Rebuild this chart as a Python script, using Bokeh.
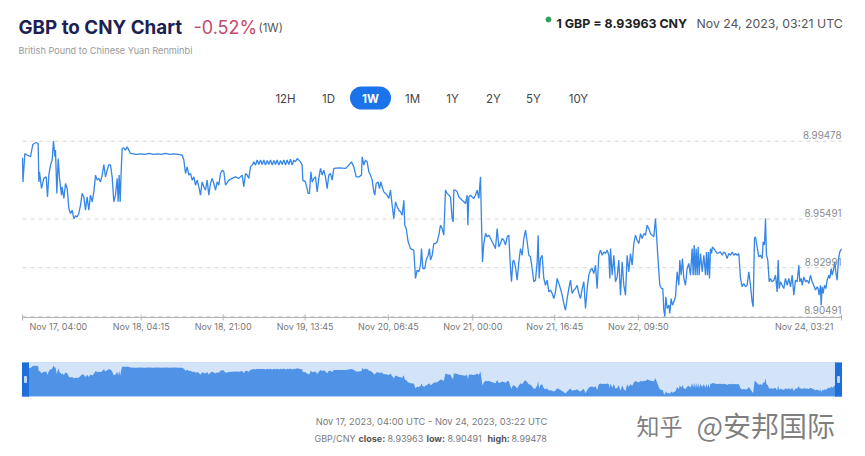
import math
import pandas as pd
from bokeh.plotting import figure
from bokeh.models import Range1d, Label
from bokeh.core.properties import value
from bokeh.layouts import column
from bokeh.embed import file_html
from bokeh.resources import INLINE

# ---------------- data ----------------
start_time = "2023-11-17 04:00"
end_time = "2023-11-24 03:21"

# hours since start_time (UTC)
hours = [
    0.00, 0.10, 0.48, 0.95, 1.63, 2.11, 2.79, 3.20, 3.34, 3.47,
    3.88, 4.36, 4.84, 5.11, 5.38, 5.72, 6.06, 6.33, 6.61, 6.74,
    7.02, 7.29, 7.56, 7.97, 8.10, 8.45, 8.79, 9.13, 9.47, 9.81,
    10.15, 10.49, 10.83, 11.17, 11.51, 11.85, 12.19, 12.53, 12.87, 13.21,
    13.55, 13.89, 14.24, 14.58, 14.92, 15.26, 15.60, 15.94, 16.28, 16.62,
    16.96, 17.30, 17.64, 17.98, 18.32, 18.66, 19.00, 19.34, 19.55, 19.75,
    19.96, 20.16, 20.36, 20.71, 21.05, 21.39, 21.73, 22.07, 23.26, 24.11,
    25.00, 25.81, 26.70, 27.52, 28.40, 29.22, 30.10, 30.92, 31.80, 32.63,
    32.97, 33.31, 33.65, 33.99, 34.33, 34.67, 35.01, 35.35, 35.69, 36.03,
    36.37, 36.71, 37.05, 37.39, 37.73, 38.07, 38.41, 38.75, 39.09, 39.44,
    39.78, 40.12, 40.46, 40.80, 41.14, 41.48, 42.16, 42.84, 43.52, 44.20,
    44.88, 45.23, 45.57, 45.91, 46.25, 46.59, 46.93, 47.27, 47.61, 47.95,
    48.29, 48.63, 48.97, 49.31, 49.65, 49.99, 50.33, 50.67, 51.02, 51.36,
    51.70, 52.04, 52.38, 52.72, 53.06, 53.40, 53.74, 54.08, 54.42, 54.76,
    55.10, 55.44, 55.78, 56.12, 56.46, 56.80, 57.14, 57.28, 57.82, 58.37,
    58.64, 58.92, 59.19, 59.53, 59.87, 60.21, 60.55, 60.89, 61.23, 61.57,
    61.91, 62.25, 62.59, 62.93, 63.27, 63.61, 64.64, 66.00, 66.68, 67.22,
    67.70, 68.18, 68.72, 69.27, 69.41, 69.75, 70.09, 70.43, 70.77, 71.11,
    71.45, 71.79, 71.99, 72.26, 72.67, 72.95, 73.22, 73.49, 73.83, 74.17,
    74.51, 74.85, 75.19, 75.53, 75.87, 76.22, 76.56, 76.90, 77.24, 77.58,
    77.92, 78.12, 78.40, 78.80, 79.28, 79.96, 80.30, 80.64, 80.98, 81.32,
    81.53, 81.80, 82.21, 82.48, 82.89, 83.16, 83.37, 83.71, 84.05, 84.39,
    84.73, 85.07, 85.41, 85.75, 86.09, 86.43, 86.77, 87.11, 87.45, 87.79,
    88.00, 88.14, 88.48, 88.82, 89.16, 89.50, 89.84, 90.18, 90.52, 90.86,
    91.00, 91.20, 91.54, 91.88, 92.22, 92.56, 92.90, 93.24, 93.45, 93.58,
    93.79, 93.99, 94.26, 94.61, 94.95, 95.29, 95.63, 95.97, 96.31, 96.65,
    96.99, 97.33, 97.67, 98.01, 98.35, 98.69, 99.03, 99.37, 99.71, 99.92,
    100.19, 100.39, 100.73, 101.07, 101.42, 101.76, 102.10, 102.44, 102.78, 103.12,
    103.46, 103.80, 104.14, 104.48, 104.82, 105.16, 105.37, 105.57, 105.84, 106.18,
    106.52, 106.86, 107.20, 107.55, 107.89, 108.23, 108.57, 108.91, 109.25, 109.59,
    109.93, 110.27, 110.61, 110.95, 111.29, 111.63, 111.97, 112.31, 112.65, 112.99,
    113.33, 113.68, 114.02, 114.36, 114.70, 115.04, 115.38, 115.72, 116.06, 116.40,
    116.74, 117.08, 117.42, 117.76, 118.10, 118.44, 118.78, 119.12, 119.46, 119.81,
    120.01, 120.15, 120.49, 120.83, 121.17, 121.51, 121.85, 122.19, 122.53, 122.87,
    123.21, 123.55, 123.89, 124.23, 124.57, 124.91, 125.25, 125.59, 125.94, 126.28,
    126.62, 126.96, 127.30, 127.64, 127.98, 128.32, 128.66, 129.00, 129.34, 129.68,
    129.89, 130.23, 130.57, 130.84, 131.04, 131.25, 131.45, 131.73, 132.07, 132.27,
    132.54, 132.81, 133.09, 133.43, 133.77, 134.11, 134.31, 134.59, 134.86, 135.13,
    135.47, 135.81, 136.15, 136.49, 136.83, 137.04, 137.24, 137.45, 137.65, 137.85,
    138.06, 138.26, 138.54, 138.88, 139.22, 139.56, 139.76, 139.97, 140.17, 140.38,
    140.58, 140.78, 140.99, 141.26, 141.94, 142.62, 142.96, 143.30, 143.64, 143.98,
    144.32, 144.67, 145.01, 145.35, 145.69, 146.03, 146.37, 146.71, 147.05, 147.39,
    147.73, 148.07, 148.41, 148.75, 149.09, 149.30, 149.57, 149.77, 150.11, 150.45,
    150.80, 151.14, 151.34, 151.61, 151.82, 152.02, 152.29, 152.57, 152.84, 153.18,
    153.52, 153.86, 154.20, 154.41, 154.61, 154.88, 155.22, 155.56, 155.90, 156.25,
    156.59, 156.93, 157.27, 157.61, 157.95, 158.29, 158.63, 158.83, 159.11, 159.31,
    159.65, 159.99, 160.33, 160.67, 161.01, 161.35, 161.69, 162.03, 162.38, 162.58,
    162.78, 163.06, 163.19, 163.40, 163.60, 163.87, 164.15, 164.42, 164.76, 164.96,
    165.24, 165.44, 165.78, 165.99, 166.19, 166.46, 166.74, 167.01, 167.35,
]

# GBP/CNY rate
rates = [
    8.9863, 8.9739, 8.9885, 8.9876, 8.9868, 8.9931, 8.9941, 8.9936, 8.9739, 8.9791,
    8.9705, 8.9757, 8.9765, 8.9662, 8.9774, 8.9825, 8.9851, 8.9948, 8.9868, 8.9902,
    8.9680, 8.9859, 8.9757, 8.9671, 8.9714, 8.9654, 8.9731, 8.9705, 8.9603, 8.9577,
    8.9594, 8.9551, 8.9565, 8.9560, 8.9577, 8.9620, 8.9680, 8.9662, 8.9594, 8.9662,
    8.9594, 8.9671, 8.9637, 8.9688, 8.9774, 8.9748, 8.9757, 8.9739, 8.9774, 8.9828,
    8.9765, 8.9799, 8.9828, 8.9825, 8.9765, 8.9637, 8.9671, 8.9757, 8.9637, 8.9774,
    8.9637, 8.9791, 8.9910, 8.9914, 8.9902, 8.9919, 8.9902, 8.9885, 8.9880, 8.9883,
    8.9880, 8.9885, 8.9880, 8.9883, 8.9880, 8.9885, 8.9880, 8.9883, 8.9880, 8.9876,
    8.9851, 8.9782, 8.9816, 8.9774, 8.9782, 8.9748, 8.9765, 8.9722, 8.9748, 8.9714,
    8.9671, 8.9739, 8.9714, 8.9697, 8.9748, 8.9671, 8.9731, 8.9757, 8.9731, 8.9697,
    8.9739, 8.9722, 8.9782, 8.9799, 8.9791, 8.9722, 8.9748, 8.9757, 8.9765, 8.9757,
    8.9774, 8.9714, 8.9782, 8.9774, 8.9757, 8.9816, 8.9825, 8.9842, 8.9825, 8.9851,
    8.9828, 8.9851, 8.9828, 8.9851, 8.9825, 8.9849, 8.9828, 8.9851, 8.9825, 8.9849,
    8.9828, 8.9851, 8.9825, 8.9849, 8.9828, 8.9852, 8.9825, 8.9851, 8.9828, 8.9856,
    8.9825, 8.9851, 8.9842, 8.9859, 8.9851, 8.9842, 8.9825, 8.9748, 8.9739, 8.9680,
    8.9680, 8.9791, 8.9739, 8.9757, 8.9765, 8.9688, 8.9757, 8.9808, 8.9774, 8.9799,
    8.9765, 8.9705, 8.9774, 8.9782, 8.9748, 8.9808, 8.9811, 8.9808, 8.9825, 8.9842,
    8.9816, 8.9765, 8.9765, 8.9774, 8.9868, 8.9825, 8.9851, 8.9842, 8.9791, 8.9774,
    8.9748, 8.9688, 8.9671, 8.9731, 8.9739, 8.9705, 8.9739, 8.9714, 8.9688, 8.9680,
    8.9671, 8.9654, 8.9697, 8.9620, 8.9551, 8.9637, 8.9611, 8.9594, 8.9586, 8.9568,
    8.9645, 8.9517, 8.9500, 8.9432, 8.9397, 8.9389, 8.9244, 8.9286, 8.9278, 8.9312,
    8.9397, 8.9295, 8.9295, 8.9338, 8.9363, 8.9397, 8.9338, 8.9363, 8.9423, 8.9423,
    8.9432, 8.9466, 8.9517, 8.9500, 8.9466, 8.9697, 8.9680, 8.9671, 8.9662, 8.9551,
    8.9534, 8.9697, 8.9697, 8.9688, 8.9662, 8.9654, 8.9645, 8.9637, 8.9628, 8.9671,
    8.9517, 8.9662, 8.9671, 8.9662, 8.9654, 8.9671, 8.9697, 8.9654, 8.9722, 8.9765,
    8.9534, 8.9329, 8.9423, 8.9474, 8.9457, 8.9466, 8.9449, 8.9432, 8.9415, 8.9397,
    8.9500, 8.9406, 8.9423, 8.9449, 8.9440, 8.9415, 8.9457, 8.9466, 8.9295, 8.9227,
    8.9329, 8.9338, 8.9303, 8.9235, 8.9329, 8.9397, 8.9363, 8.9449, 8.9492, 8.9432,
    8.9363, 8.9355, 8.9295, 8.9227, 8.9235, 8.9329, 8.9466, 8.9244, 8.9346, 8.9363,
    8.9244, 8.9209, 8.9235, 8.9175, 8.9184, 8.9167, 8.9141, 8.9175, 8.9244, 8.9218,
    8.9192, 8.9158, 8.9115, 8.9081, 8.9141, 8.9192, 8.9235, 8.9167, 8.9184, 8.9192,
    8.9209, 8.9167, 8.9141, 8.9192, 8.9227, 8.9090, 8.9192, 8.9261, 8.9286, 8.9295,
    8.9269, 8.9312, 8.9192, 8.9363, 8.9389, 8.9363, 8.9380, 8.9372, 8.9389, 8.9363,
    8.9244, 8.9397, 8.9261, 8.9363, 8.9227, 8.9252, 8.9338, 8.9158, 8.9329, 8.9209,
    8.9158, 8.9363, 8.9278, 8.9372, 8.9312, 8.9423, 8.9466, 8.9440, 8.9423, 8.9474,
    8.9449, 8.9474, 8.9466, 8.9517, 8.9500, 8.9474, 8.9466, 8.9457, 8.9551, 8.9415,
    8.9329, 8.9209, 8.9192, 8.9192, 8.9081, 8.9049, 8.9150, 8.9090, 8.9107, 8.9064,
    8.9141, 8.9107, 8.9124, 8.9150, 8.9278, 8.9209, 8.9338, 8.9261, 8.9346, 8.9244,
    8.9209, 8.9295, 8.9321, 8.9261, 8.9397, 8.9261, 8.9415, 8.9261, 8.9397, 8.9261,
    8.9406, 8.9261, 8.9372, 8.9278, 8.9363, 8.9261, 8.9380, 8.9261, 8.9380, 8.9244,
    8.9397, 8.9372, 8.9406, 8.9397, 8.9372, 8.9380, 8.9363, 8.9380, 8.9372, 8.9346,
    8.9372, 8.9363, 8.9380, 8.9363, 8.9372, 8.9363, 8.9372, 8.9244, 8.9201, 8.9218,
    8.9201, 8.9209, 8.9278, 8.9209, 8.9124, 8.9098, 8.9449, 8.9457, 8.9406, 8.9355,
    8.9363, 8.9346, 8.9432, 8.9415, 8.9551, 8.9363, 8.9338, 8.9227, 8.9244, 8.9227,
    8.9235, 8.9261, 8.9175, 8.9338, 8.9192, 8.9227, 8.9209, 8.9192, 8.9244, 8.9209,
    8.9244, 8.9201, 8.9261, 8.9158, 8.9235, 8.9227, 8.9312, 8.9227, 8.9244, 8.9209,
    8.9252, 8.9227, 8.9235, 8.9218, 8.9261, 8.9227, 8.9209, 8.9184, 8.9201, 8.9192,
    8.9158, 8.9209, 8.9107, 8.9201, 8.9167, 8.9209, 8.9192, 8.9235, 8.9261, 8.9244,
    8.9295, 8.9261, 8.9295, 8.9329, 8.9278, 8.9235, 8.9346, 8.9380, 8.93963,
]

y_ticks = [8.90491, 8.92991, 8.95491, 8.99478]
x_tick_times = ["2023-11-17 04:00", "2023-11-18 04:15", "2023-11-18 21:00",
                "2023-11-19 13:45", "2023-11-20 06:45", "2023-11-21 00:00",
                "2023-11-21 16:45", "2023-11-22 09:50", "2023-11-24 03:21"]
x_tick_labels = ["Nov 17, 04:00", "Nov 18, 04:15", "Nov 18, 21:00",
                 "Nov 19, 13:45", "Nov 20, 06:45", "Nov 21, 00:00",
                 "Nov 21, 16:45", "Nov 22, 09:50", "Nov 24, 03:21"]
range_buttons = ["12H", "1D", "1W", "1M", "1Y", "2Y", "5Y", "10Y"]
active_button = "1W"
close_rate, low_rate, high_rate = 8.93963, 8.90491, 8.99478

assert len(hours) == len(rates), (len(hours), len(rates))

# ---------------- helpers ----------------
FONT = "Inter"
W = 865
PLOT_L, PLOT_R = 22, 841          # pixel extent of the time axis


def ms(t):
    return pd.Timestamp(t).value // 10**6


times = pd.Timestamp(start_time) + pd.to_timedelta(hours, unit="h")
t0, t1 = ms(start_time), ms(end_time)
px_ms = (t1 - t0) / (PLOT_R - PLOT_L)
x_full = Range1d(t0 - PLOT_L * px_ms, t1 + (W - PLOT_R) * px_ms)


def base(h, xr, yr, **kw):
    f = figure(width=W, height=h, x_range=xr, y_range=yr,
               x_axis_location=None, y_axis_location=None, min_border=0,
               outline_line_color=None, toolbar_location=None,
               output_backend="svg", **kw)
    f.grid.visible = False
    return f


def lab(f, x, y, text, size, color, bold=False, align="left",
        baseline="alphabetic", font=FONT, alpha=1.0):
    f.add_layout(Label(x=x, y=y, text=text, text_font=font,
                       text_font_size=f"{size}px", text_color=color,
                       text_font_style="bold" if bold else "normal",
                       text_align=align, text_baseline=baseline,
                       text_alpha=alpha))


# ---------------- header ----------------
head = base(125, Range1d(0, W), Range1d(125, 0))
lab(head, 18, 27, "GBP to CNY Chart", 18.8, "#1b2152", bold=True)
lab(head, 193, 27, "-0.52%", 18, "#c4496b")
lab(head, 258, 27, "(1W)", 11.5, "#555555")
lab(head, 18, 50, "British Pound to Chinese Yuan Renminbi", 9.2, "#9a9a9a")
head.scatter([548], [19], size=5, color="#2ea05a")
lab(head, 556, 23, f"1 GBP = {close_rate:.5f} CNY", 12.4, "#222222", bold=True)
lab(head, 696, 23, "Nov 24, 2023, 03:21 UTC", 12.3, "#555555")

btn_x = [285, 328, 370, 412, 452, 493, 533, 578]
for bx, name in zip(btn_x, range_buttons):
    if name == active_button:
        head.segment(x0=[bx - 9], y0=[97.5], x1=[bx + 9], y1=[97.5],
                     line_width=23, line_cap="round", line_color="#1a73e8")
        lab(head, bx, 98, name, 11.5, "#ffffff", bold=True, align="center",
            baseline="middle")
    else:
        lab(head, bx, 98, name, 11.5, "#444444", align="center",
            baseline="middle")

# ---------------- main chart ----------------
vpp = 1 / 1950.0                      # rate units per pixel
main_h = 220
y_top = high_rate + 15.7 * vpp
y_bot = y_top - main_h * vpp
y_axis = high_rate - 176.3 * vpp       # where the time axis sits
main = base(main_h, x_full, Range1d(y_bot, y_top))

n_y = len(y_ticks)
main.segment(x0=[t0] * n_y, y0=y_ticks, x1=[t1] * n_y, y1=y_ticks,
             line_color="#d6d6d6", line_dash="4 4", line_width=1)
main.line(times, rates, line_color="#3586e6", line_width=1.3)

main.segment(x0=[t0], y0=[y_axis], x1=[t1], y1=[y_axis],
             line_color="#b5b5b5", line_width=1)
xt = [ms(t) for t in x_tick_times]
main.scatter(xt, [y_axis] * len(xt), marker="dash", angle=math.pi / 2,
             size=6, line_color="#b5b5b5", line_width=1)

tick_font = dict(text_font=value(FONT), text_font_size=value("9px"),
                 text_color="#777777", text_baseline="middle", y_offset=9)
main.text(x=xt[1:-1], y=[y_axis] * (len(xt) - 2), text=x_tick_labels[1:-1],
          text_align="center", **tick_font)
main.text(x=[xt[0]], y=[y_axis], text=[x_tick_labels[0]], text_align="left",
          x_offset=7, **tick_font)
main.text(x=[xt[-1]], y=[y_axis], text=[x_tick_labels[-1]],
          text_align="right", x_offset=-8, **tick_font)

main.text(x=[t1] * n_y, y=y_ticks, text=[f"{v:.5f}" for v in y_ticks],
          text_align="right", text_baseline="bottom", y_offset=-2,
          text_font=value(FONT), text_font_size=value("9.8px"),
          text_color="#8a8a8a")

# ---------------- navigator ----------------
ny0, ny1 = 8.8987, 9.0041
nav = base(57, x_full, Range1d(ny0, ny1), min_border_top=17,
           min_border_bottom=6)
nav.quad(left=[t0], right=[t1], bottom=[ny0], top=[ny1],
         fill_color="#d3e4f9", line_color="#a3c6f1", line_width=1)
nav.varea(x=times, y1=ny0, y2=rates, fill_color="#4f92e6")
mid = (ny0 + ny1) / 2
hx = [t0 + 3 * px_ms, t1 - 3 * px_ms]
nav.rect(x=hx, y=[mid, mid], width=6, height=36, width_units="screen",
         height_units="screen", color="#1f6fdb")
nav.rect(x=hx, y=[mid, mid], width=2, height=6, width_units="screen",
         height_units="screen", color="#bcd6f7")

# ---------------- footer ----------------
foot = base(54, Range1d(0, W), Range1d(54, 0))
lab(foot, 431, 19, "Nov 17, 2023, 04:00 UTC - Nov 24, 2023, 03:22 UTC", 9.3,
    "#7a7a7a", align="center", baseline="middle")
segs = [("GBP/CNY", False, 314), ("close:", True, 358),
        (f"{close_rate:.5f}", False, 387), ("low:", True, 426),
        (f"{low_rate:.5f}", False, 447), ("high:", True, 487),
        (f"{high_rate:.5f}", False, 511)]
for txt, b, sx in segs:
    lab(foot, sx, 36, txt, 9, "#555555" if b else "#7a7a7a", bold=b,
        baseline="middle")
lab(foot, 636, 22, "知乎", 23, "#555555", baseline="middle",
    font="Noto Sans CJK SC", alpha=0.75)
lab(foot, 696, 22, "@安邦国际", 28, "#555555", baseline="middle",
    font="Noto Sans CJK SC", alpha=0.75)

layout = column(head, main, nav, foot, spacing=0)
open("out.html", "w").write(file_html(layout, INLINE))
